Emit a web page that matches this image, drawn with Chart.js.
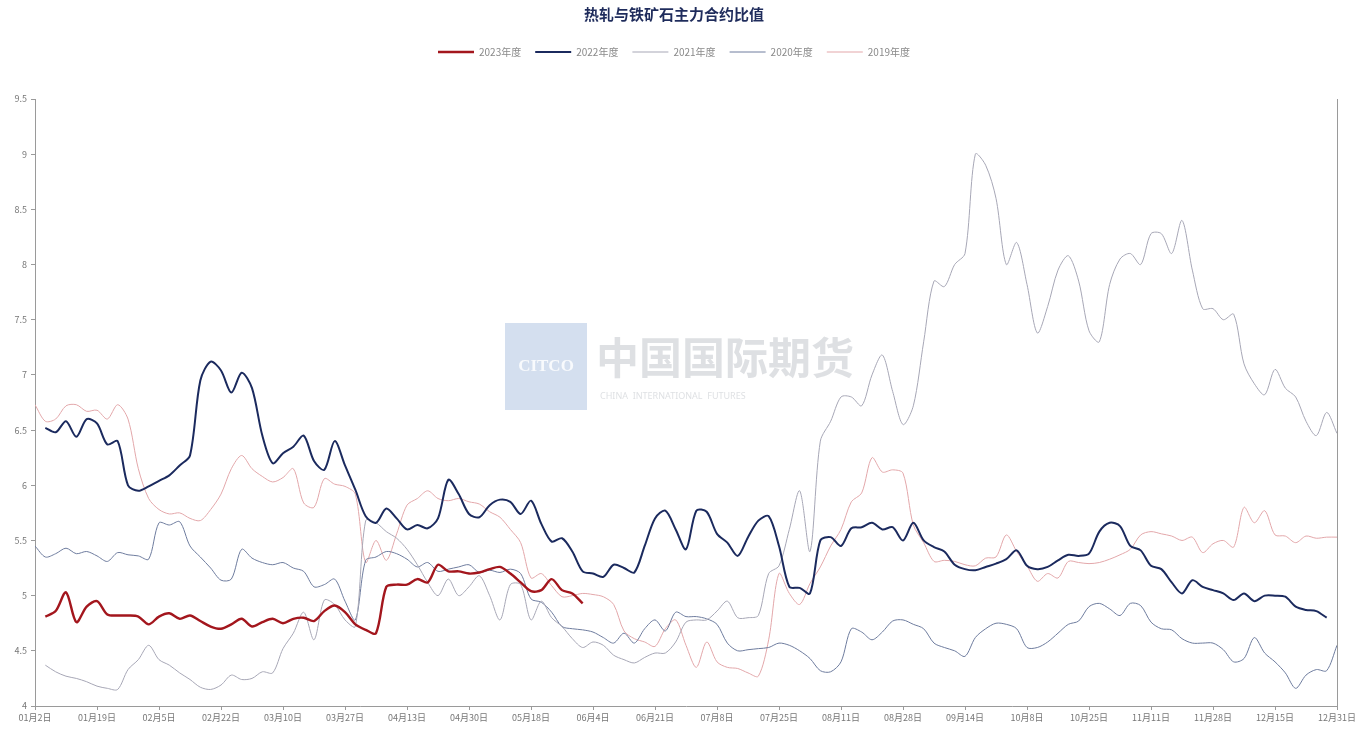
<!DOCTYPE html>
<html>
<head>
<meta charset="utf-8">
<title>热轧与铁矿石主力合约比值</title>
<script src="https://cdn.jsdelivr.net/npm/chart.js@4.4.0/dist/chart.umd.min.js"></script>
<style>
  body { margin: 0; background: #ffffff; }
  #box { width: 1360px; height: 734px; }
</style>
</head>
<body>
<div id="box"><canvas id="mychart"></canvas></div>
<script>
//DATA---------------------------------------------------------------
// x ticks: one label every 6 points
const xTickLabels = ["01月2日", "01月19日", "02月5日", "02月22日", "03月10日", "03月27日",
  "04月13日", "04月30日", "05月18日", "06月4日", "06月21日", "07月8日", "07月25日",
  "08月11日", "08月28日", "09月14日", "10月8日", "10月25日", "11月11日", "11月28日",
  "12月15日", "12月31日"];
const pointsPerTick = 6;

const yMin = 4;
const yMax = 9.5;
const yStep = 0.5;

const seriesNames = ["2023年度", "2022年度", "2021年度", "2020年度", "2019年度"];

const ratio2023 = [null, 4.81, 4.86, 5.03, 4.76, 4.90, 4.95, 4.83, 4.82, 4.82, 4.81, 4.74,
  4.81, 4.84, 4.79, 4.82, 4.77, 4.72, 4.70, 4.74, 4.79, 4.72, 4.76, 4.79, 4.75, 4.79, 4.80,
  4.77, 4.86, 4.91, 4.85, 4.74, 4.69, 4.66, 5.08, 5.10, 5.10, 5.15, 5.12, 5.28, 5.22, 5.22,
  5.20, 5.21, 5.24, 5.26, 5.20, 5.12, 5.04, 5.05, 5.15, 5.05, 5.02, 4.93];

const ratio2022 = [null, 6.52, 6.48, 6.58, 6.44, 6.60, 6.56, 6.37, 6.40, 6.00, 5.95, 5.99,
  6.04, 6.09, 6.18, 6.27, 6.95, 7.12, 7.04, 6.84, 7.02, 6.88, 6.45, 6.20, 6.29, 6.35, 6.45,
  6.22, 6.14, 6.40, 6.18, 5.96, 5.72, 5.66, 5.79, 5.70, 5.60, 5.64, 5.61, 5.70, 6.05, 5.92,
  5.74, 5.71, 5.82, 5.87, 5.85, 5.74, 5.86, 5.65, 5.49, 5.52, 5.40, 5.22, 5.20, 5.17, 5.28,
  5.25, 5.21, 5.45, 5.70, 5.77, 5.60, 5.42, 5.77, 5.76, 5.56, 5.48, 5.36, 5.53, 5.68, 5.72,
  5.45, 5.08, 5.07, 5.02, 5.50, 5.53, 5.45, 5.61, 5.62, 5.66, 5.60, 5.62, 5.50, 5.66, 5.50,
  5.44, 5.40, 5.28, 5.24, 5.23, 5.26, 5.29, 5.33, 5.41, 5.27, 5.24, 5.26, 5.32, 5.37, 5.36,
  5.38, 5.58, 5.66, 5.63, 5.45, 5.41, 5.27, 5.24, 5.12, 5.02, 5.14, 5.08, 5.05, 5.02, 4.96,
  5.02, 4.95, 5.00, 5.00, 4.99, 4.90, 4.87, 4.86, 4.80];

const ratio2021 = [null, 4.37, 4.31, 4.27, 4.25, 4.22, 4.18, 4.16, 4.15, 4.33, 4.42, 4.55,
  4.42, 4.37, 4.30, 4.24, 4.17, 4.15, 4.19, 4.28, 4.24, 4.25, 4.31, 4.30, 4.52, 4.66, 4.85,
  4.60, 4.96, 4.92, 4.78, 4.72, 5.68, 5.66, 5.58, 5.52, 5.42, 5.28, 5.12, 5.00, 5.15, 5.00,
  5.08, 5.18, 5.00, 4.78, 5.10, 5.10, 4.78, 4.95, 4.80, 4.72, 4.61, 4.53, 4.58, 4.55, 4.46,
  4.42, 4.39, 4.44, 4.48, 4.48, 4.58, 4.76, 4.78, 4.78, 4.86, 4.95, 4.80, 4.80, 4.82, 5.20,
  5.27, 5.60, 5.95, 5.40, 6.40, 6.58, 6.80, 6.80, 6.72, 7.00, 7.18, 6.85, 6.55, 6.72, 7.30,
  7.85, 7.80, 8.00, 8.10, 9.00, 8.90, 8.60, 8.00, 8.20, 7.82, 7.38, 7.62, 7.95, 8.08, 7.85,
  7.40, 7.30, 7.82, 8.05, 8.10, 8.00, 8.28, 8.28, 8.10, 8.40, 7.95, 7.60, 7.60, 7.50, 7.55,
  7.10, 6.92, 6.82, 7.05, 6.88, 6.80, 6.58, 6.45, 6.66, 6.47];

const ratio2020 = [5.45, 5.35, 5.38, 5.43, 5.38, 5.40, 5.36, 5.31, 5.39, 5.37, 5.36, 5.33,
  5.66, 5.64, 5.67, 5.45, 5.35, 5.25, 5.14, 5.15, 5.42, 5.34, 5.30, 5.28, 5.30, 5.25, 5.22,
  5.08, 5.10, 5.15, 4.95, 4.78, 5.32, 5.35, 5.40, 5.38, 5.33, 5.26, 5.30, 5.22, 5.24, 5.26,
  5.28, 5.21, 5.23, 5.21, 5.24, 5.20, 4.97, 4.94, 4.85, 4.72, 4.70, 4.69, 4.67, 4.62, 4.57,
  4.66, 4.57, 4.70, 4.78, 4.68, 4.85, 4.81, 4.81, 4.79, 4.74, 4.57, 4.50, 4.51, 4.52, 4.53,
  4.57, 4.55, 4.50, 4.43, 4.32, 4.31, 4.40, 4.70, 4.67, 4.60, 4.67, 4.77, 4.78, 4.74, 4.70,
  4.57, 4.53, 4.50, 4.45, 4.62, 4.70, 4.75, 4.74, 4.70, 4.53, 4.53, 4.58, 4.66, 4.74, 4.77,
  4.90, 4.93, 4.88, 4.82, 4.93, 4.91, 4.76, 4.70, 4.69, 4.61, 4.57, 4.57, 4.57, 4.51, 4.40,
  4.43, 4.62, 4.48, 4.40, 4.30, 4.16, 4.28, 4.33, 4.32, 4.55];

const ratio2019 = [6.73, 6.58, 6.60, 6.72, 6.73, 6.67, 6.68, 6.60, 6.73, 6.60, 6.15, 5.88,
  5.78, 5.74, 5.75, 5.70, 5.68, 5.78, 5.92, 6.15, 6.27, 6.15, 6.08, 6.03, 6.07, 6.15, 5.84,
  5.80, 6.06, 6.01, 5.99, 5.92, 5.30, 5.50, 5.32, 5.56, 5.82, 5.88, 5.95, 5.88, 5.86, 5.88,
  5.85, 5.83, 5.76, 5.71, 5.60, 5.48, 5.16, 5.20, 5.09, 4.99, 5.00, 5.02, 5.01, 4.99, 4.92,
  4.68, 4.61, 4.58, 4.54, 4.70, 4.78, 4.55, 4.35, 4.58, 4.40, 4.35, 4.34, 4.30, 4.27, 4.60,
  5.20, 5.02, 4.92, 5.11, 5.26, 5.45, 5.60, 5.85, 5.93, 6.25, 6.12, 6.14, 6.11, 5.64, 5.48,
  5.31, 5.32, 5.31, 5.28, 5.27, 5.34, 5.35, 5.55, 5.40, 5.27, 5.13, 5.20, 5.16, 5.31, 5.30,
  5.29, 5.30, 5.33, 5.37, 5.42, 5.55, 5.58, 5.56, 5.54, 5.50, 5.53, 5.39, 5.47, 5.50, 5.44,
  5.80, 5.66, 5.77, 5.55, 5.54, 5.48, 5.54, 5.52, 5.53, 5.53];
//-------------------------------------------------------------------


//HELPERS------------------------------------------------------------
function toPoints(arr) {
  const pts = [];
  arr.forEach(function (v, i) {
    if (v !== null) pts.push({ x: i, y: v });
  });
  return pts;
}

const axisFont = { family: "'Noto Sans CJK SC', 'Noto Sans', sans-serif", size: 9 };
//-------------------------------------------------------------------


//PLUGINS------------------------------------------------------------
// extra room under the legend
const legendGap = {
  id: "legendGap",
  beforeLayout(chart) {
    const lg = chart.legend;
    if (lg && !lg._gapDone) {
      const fit = lg.fit;
      lg.fit = function () {
        fit.call(this);
        this.height += 32;
      };
      lg._gapDone = true;
    }
  }
};

const watermark = {
  id: "watermark",
  beforeDatasetsDraw(chart) {
    const ctx = chart.ctx;
    ctx.save();
    ctx.fillStyle = "rgba(170,192,224,0.5)";
    ctx.fillRect(505, 323, 82, 87);
    ctx.fillStyle = "rgba(255,255,255,0.85)";
    ctx.font = "bold 17px 'Liberation Serif', serif";
    ctx.textAlign = "center";
    ctx.textBaseline = "middle";
    ctx.fillText("CITCO", 546, 367);
    ctx.fillStyle = "rgba(160,165,175,0.35)";
    ctx.font = "bold 43px 'Noto Sans CJK SC', sans-serif";
    ctx.textAlign = "left";
    ctx.fillText("中国国际期货", 596, 358);
    ctx.font = "9px 'Noto Sans', sans-serif";
    ctx.fillText("CHINA  INTERNATIONAL  FUTURES", 600, 396);
    ctx.restore();
  }
};
//-------------------------------------------------------------------


//LINE CHART---------------------------------------------------------
function lineChart() {
  const colors = ["#a3161d", "#1b2a5e", "#a7a7b6", "#6e7c9e", "#e3a7aa"];
  const widths = [2.4, 2, 1, 1, 1];
  const allSeries = [ratio2023, ratio2022, ratio2021, ratio2020, ratio2019];

  const datasets = allSeries.map(function (arr, k) {
    return {
      label: seriesNames[k],
      data: toPoints(arr),
      borderColor: colors[k],
      backgroundColor: colors[k],
      borderWidth: widths[k],
      pointRadius: 0,
      tension: 0.3,
      pointStyle: "line"
    };
  });

  const config = {
    type: "line",
    data: { datasets: datasets },
    plugins: [watermark, legendGap],
    options: {
      responsive: true,
      maintainAspectRatio: false,
      animation: false,
      layout: { padding: { left: 11, right: 23, top: 0, bottom: 0 } },
      plugins: {
        title: {
          display: true,
          text: "热轧与铁矿石主力合约比值",
          color: "#1f2c5c",
          font: { family: "'Noto Sans CJK SC', sans-serif", size: 15, weight: "bold" },
          padding: { top: 5, bottom: 10 }
        },
        legend: {
          display: true,
          labels: {
            usePointStyle: true,
            pointStyleWidth: 36,
            boxHeight: 6,
            color: "#8a8a8a",
            font: { family: "'Noto Sans CJK SC', sans-serif", size: 10 },
            padding: 14
          }
        },
        tooltip: { enabled: false }
      },
      scales: {
        x: {
          type: "linear",
          min: 0,
          max: (xTickLabels.length - 1) * pointsPerTick,
          afterFit: function (scale) { scale.height = 28; },
          ticks: {
            stepSize: pointsPerTick,
            autoSkip: false,
            maxRotation: 0,
            color: "#777777",
            font: axisFont,
            padding: 2,
            callback: function (v) { return xTickLabels[Math.round(v / pointsPerTick)]; }
          },
          grid: { drawOnChartArea: false, tickLength: 4, color: "#9a9a9a" },
          border: { color: "#9a9a9a" }
        },
        y: {
          min: yMin,
          max: yMax,
          afterFit: function (scale) { scale.width = 24; },
          ticks: {
            stepSize: yStep,
            color: "#777777",
            font: axisFont,
            padding: 4,
            callback: function (v) { return String(v); }
          },
          grid: { drawOnChartArea: false, tickLength: 4, color: "#9a9a9a" },
          border: { color: "#9a9a9a" }
        },
        yRight: {
          position: "right",
          min: yMin,
          max: yMax,
          afterFit: function (scale) { scale.width = 0; },
          ticks: { display: false },
          grid: { display: false },
          border: { color: "#9a9a9a" }
        }
      }
    }
  };

  const myChart = new Chart(document.getElementById("mychart"), config);
  return myChart;
}

const ratioChart = lineChart();
//-------------------------------------------------------------------
</script>
</body>
</html>
